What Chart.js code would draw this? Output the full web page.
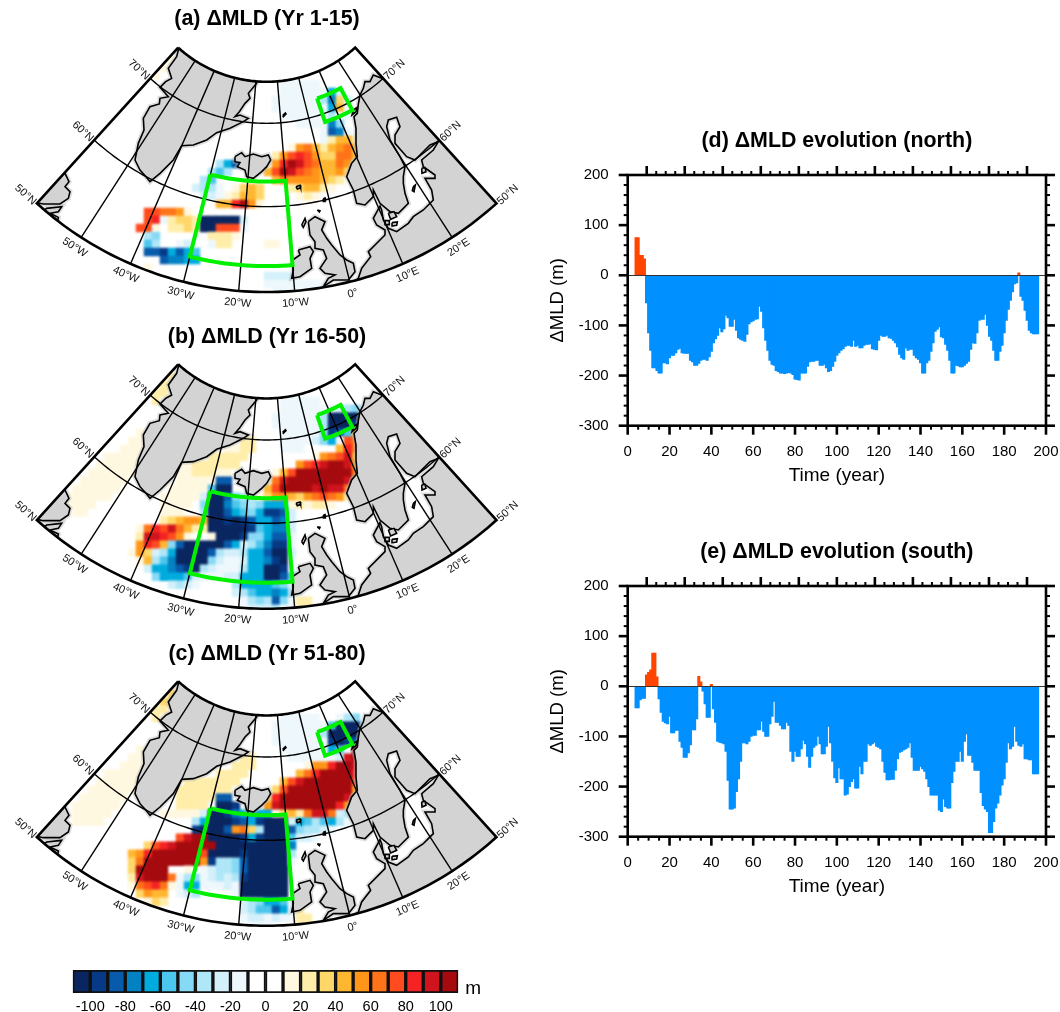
<!DOCTYPE html>
<html>
<head>
<meta charset="utf-8">
<title>MLD response</title>
<script src="https://cdn.jsdelivr.net/npm/chart.js@4/dist/chart.umd.js"></script>
<style>
html, body { margin: 0; padding: 0; background: #fff; overflow: hidden; }
#page { position: relative; width: 1060px; height: 1012px; }
canvas { position: absolute; filter: blur(0.35px); }
canvas.cells { filter: blur(1.1px); }
</style>
</head>
<body>
<div id="page">
    <canvas class="cells" id="cellsA" width="534" height="320" style="left:0;top:0"></canvas>
    <canvas class="cells" id="cellsB" width="534" height="320" style="left:0;top:317px"></canvas>
    <canvas class="cells" id="cellsC" width="534" height="320" style="left:0;top:634px"></canvas>
    <canvas id="mapA" width="534" height="320" style="left:0;top:0"></canvas>
    <canvas id="mapB" width="534" height="320" style="left:0;top:317px"></canvas>
    <canvas id="mapC" width="534" height="320" style="left:0;top:634px"></canvas>
    <canvas id="colorBar" width="435" height="57" style="left:55px;top:955px"></canvas>
    <canvas id="north" width="520" height="365" style="left:540px;top:125px"></canvas>
    <canvas id="south" width="520" height="365" style="left:540px;top:536px"></canvas>
</div>
<script>

// yearly MLD anomaly (m), first bar is year 4
const firstYear = 4;
const northValues = [
    75,75,40,40,33,-55,-115,-150,-185,-185,-190,-195,-195,-175,-175,-177,
    -165,-160,-160,-155,-148,-146,-155,-156,-156,-156,-170,-173,-180,-180,-176,-170,-168,-168,-170,-163,
    -152,-135,-127,-120,-105,-113,-107,-80,-85,-102,-102,-88,-110,-125,-128,-130,-132,-118,-97,-93,
    -91,-88,-87,-62,-72,-105,-130,-150,-170,-178,-180,-190,-192,-195,-195,-196,-195,-194,-195,-198,
    -207,-208,-209,-195,-195,-195,-182,-173,-172,-172,-170,-170,-180,-180,-178,-185,-192,-190,-182,-172,
    -160,-155,-150,-147,-142,-140,-140,-142,-130,-142,-140,-145,-145,-140,-138,-138,-137,-147,-148,-149,
    -130,-120,-122,-122,-120,-125,-126,-130,-135,-143,-158,-165,-168,-145,-150,-148,-148,-160,-165,-168,
    -175,-195,-195,-175,-170,-152,-135,-112,-108,-103,-123,-125,-138,-150,-170,-195,-195,-180,-181,-183,
    -183,-180,-176,-172,-148,-135,-136,-115,-90,-88,-88,-78,-100,-122,-130,-150,-170,-170,-152,-140,
    -115,-90,-68,-50,-33,-17,-15,5,-42,-50,-70,-90,-110,-115,-117,-117,-117
];
const southValues = [
    -43,-43,-27,-24,-24,23,28,33,66,66,19,-25,-52,-70,-73,-75,
    -60,-93,-93,-88,-88,-110,-122,-142,-142,-133,-117,-87,-87,-65,20,9,-10,-35,-62,-62,
    4,-45,-72,-110,-112,-113,-115,-130,-188,-245,-245,-243,-210,-185,-150,-113,-113,-115,-110,-100,
    -98,-98,-87,-87,-70,-90,-100,-100,-75,-60,-30,-72,-72,-78,-85,-85,-72,-78,-130,-150,
    -130,-140,-140,-125,-108,-115,-140,-162,-140,-122,-118,-100,-115,-135,-135,-120,-80,-113,-150,-183,
    -192,-163,-185,-185,-217,-215,-200,-190,-185,-203,-203,-160,-175,-150,-150,-115,-118,-115,-112,-120,
    -122,-125,-150,-172,-187,-187,-186,-186,-168,-145,-132,-130,-127,-125,-122,-113,-142,-168,-168,-168,
    -160,-165,-170,-185,-200,-217,-217,-217,-217,-247,-250,-225,-240,-243,-243,-192,-170,-150,-150,-130,
    -150,-110,-95,-138,-138,-152,-168,-168,-168,-212,-238,-245,-250,-292,-292,-270,-243,-233,-217,-197,
    -185,-152,-113,-125,-120,-80,-110,-118,-120,-115,-145,-145,-147,-147,-175,-175,-175
];

// colour levels: -110 ... 110 in steps of 10, one letter per level in the map cells
const levelEdges = [-110,-100,-90,-80,-70,-60,-50,-40,-30,-20,-10,0,10,20,30,40,50,60,70,80,90,100,110];
const levelTicks = [-100,-80,-60,-40,-20,0,20,40,60,80,100];
const levelCodes = 'abcdefghijklmnopqrstuv';
const levelColors = [
    '#0a2660','#063a87','#085aaa','#0282c3','#00acde','#4bc6ec','#87daf6','#afe6f8','#d4f0fa','#eef8fc','#ffffff',
    '#ffffff','#fff8e1','#ffeeaa','#ffd769','#ffb732','#ff9619','#ff7319','#ff4b1e','#f52323','#d0141e','#a50a0f'
];

// map cells as [row, first column, level letters]
const cellsA = [
    [1,17,'mm'],[2,16,'mm'],[3,15,'m'],[4,31,'jjjjj'],[5,31,'jjjjjjei'],[6,30,'jjjjjjhdoi'],[7,30,'jjjjjjjepj'],
    [8,31,'jjjjjjhjj'],[9,33,'jjjjdg'],[10,36,'jcdj'],[11,36,'jnppn'],[12,32,'mqrpnpqrpm'],[13,30,'nqstsqoorrp'],
    [14,29,'mqtvusrpprqn'],[14,23,'hech'],[15,29,'psvusrqppqom'],[15,22,'hfh'],[16,30,'prqqqqpon'],[16,21,'hf'],
    [17,32,'noppnm'],[17,20,'ihhj'],[17,25,'mopo'],[18,33,'mnm'],[18,21,'iij'],[18,24,'mnppo'],[19,23,'pptvqm'],
    [20,14,'ssrrqm'],[21,14,'st'],[21,16,'jnoon'],[21,21,'aaaaai'],[22,13,'ssm'],[22,17,'nnon'],[22,21,'aasssj'],
    [23,14,'hg'],[23,20,'j'],[23,22,'nnnm'],[24,14,'fh'],[24,18,'ji'],[24,22,'jnn'],[24,29,'mm'],[25,14,'ccbecef'],
    [26,16,'cddee'],[27,14,'m'],[28,29,'iiii'],[29,29,'jjjjj'],[29,34,'jjj'],[30,30,'jjj'],[30,34,'jj']
];
const cellsB = [
    [1,17,'nn'],[2,16,'nn'],[3,15,'nn'],[4,15,'n'],[4,31,'jjjjj'],[5,31,'jjjjjjjihg'],[6,30,'jjjjjjhaaaag'],
    [7,30,'jjjjjjhaaabh'],[8,31,'jjjjjgbcfpj'],[8,13,'mm'],[9,31,'jjjjigejsr'],[9,12,'mm'],[9,26,'nn'],
    [10,31,'jjj'],[10,38,'ptr'],[10,11,'mmm'],[10,24,'mmnn'],[11,35,'mqrsup'],[11,9,'mmmmm'],[11,22,'nnnnn'],
    [12,33,'qstuvvuq'],[12,8,'mmmmmm'],[12,18,'mmnnnnnn'],[13,30,'mpsvvvvvvvr'],[13,7,'mmmmmm'],[13,18,'mmnnnmm'],
    [14,29,'mruvvvvvvvup'],[14,6,'mmmmmm'],[14,18,'mmmmm'],[14,23,'cc'],[15,29,'psvvvvuvuurm'],[15,5,'mmmmmm'],
    [15,17,'mmmmm'],[15,22,'faa'],[16,28,'moqqpoqrsrqn'],[16,4,'mmmmmm'],[16,16,'mmmmm'],[16,21,'iaacghh'],
    [17,21,'gaadfghgeeemnmnnm'],[17,4,'mmmm'],[17,16,'mmmm'],[18,5,'mm'],[18,16,'mmm'],[18,21,'haacefgebbci'],
    [19,16,'nopqqpaababceecdi'],[20,13,'mrtsurpnnaaaaabfeddi'],[21,13,'nuutsqm'],[21,22,'maaabggeccj'],
    [22,13,'qtspgcaaaaaceihfdbbj'],[23,12,'mqoiheaaaachiiheecaai'],[24,13,'mphfdaaaagijjieedbaj'],
    [25,14,'ieedcbahijjjheeaabj'],[26,15,'geeefijjjiieeeaacfh'],[27,17,'ihij'],[27,25,'heeeefgi'],
    [28,25,'ihfeedehj'],[29,26,'jhghcgjnn'],[30,26,'jiiihjjnn']
];
const cellsC = [
    [1,17,'oo'],[2,16,'oo'],[3,15,'nn'],[4,15,'n'],[4,31,'jjjjj'],[4,38,'jhg'],[5,30,'jjjjjjjfaaag'],[6,30,'jjjjjjhaaaah'],
    [7,30,'jjjjjjjbabch'],[8,31,'jjjjjjefjvj'],[8,13,'mm'],[9,32,'jjjjjjiuv'],[9,12,'mm'],[9,26,'nn'],
    [10,34,'mqqtvvu'],[10,11,'mmm'],[10,25,'nnn'],[11,33,'prtvvvvt'],[11,9,'mmmmm'],[11,23,'nnnn'],
    [12,31,'psuvvvvvvs'],[12,8,'mmmmmm'],[12,19,'nnnnnnn'],[13,30,'osvvvvvvvvq'],[13,7,'mmmmmm'],[13,18,'nnnnnnn'],
    [14,29,'otvvvvvvvvup'],[14,6,'mmmmmm'],[14,18,'nnnnn'],[14,23,'cc'],[15,29,'quvvvvvvvtqm'],[15,5,'mmmmmm'],
    [15,18,'nnnnj'],[15,23,'aab'],[16,5,'mmmmm'],[16,16,'mmmmm'],[16,21,'iaabdeeee'],[16,30,'mopnruurihj'],
    [17,5,'mmmm'],[17,20,'heaaabcebaaaiefhfehj'],[18,20,'baaacqrohaaacghhij'],[19,18,'suvvaaaabebaaafiij'],
    [20,14,'ostuvvvvvaaaaaaaaad'],[21,12,'pqtvvvvvvsaaaabaaaaah'],[22,12,'orvvvvvvvqbhhgcaaaaaj'],
    [23,12,'ovvvv'],[23,19,'m'],[23,21,'jihhgcaaaaa'],[24,12,'nuvvvrjhgjihihbaaaaa'],[25,12,'mrstrmjeejjjijaaaaaa'],
    [26,13,'oqpp'],[26,18,'jih'],[26,25,'jaaaaaa'],[27,14,'mon'],[27,26,'ihgeefj'],[28,26,'ihffcejn'],
    [29,26,'jiijijjnn'],[30,27,'jjj'],[30,33,'nn']
];

// coast outlines, in map plane units
const greenland = [[540,110],[535,150],[530,170],[505,205],[515,235],[497,245],[480,262],[505,290],[480,295],[478,312],[450,320],[430,355],[432,390],[415,430],[405,480],[420,510],[438,530],[450,545],[480,520],[520,480],[545,437],[580,435],[620,420],[650,398],[690,385],[730,365],[745,355],[720,345],[705,350],[718,335],[735,310],[750,295],[745,280],[770,250],[770,200],[700,120]];
const canada = [[40,540],[195,520],[207,545],[195,560],[210,575],[205,595],[180,612],[130,612],[100,606],[40,620]];
const newfoundland = [[120,640],[140,625],[185,620],[175,635],[150,640],[175,652],[170,680],[120,680]];
const iceland = [[705,470],[725,458],[735,470],[760,462],[785,470],[805,465],[812,480],[800,500],[785,515],[760,535],[740,530],[735,510],[712,500],[720,488],[705,485]];
const britain = [[925,665],[945,650],[975,665],[965,690],[980,715],[995,735],[1020,765],[1040,780],[1060,790],[1065,815],[1045,840],[1000,840],[970,860],[985,835],[1005,825],[975,820],[960,805],[980,775],[970,750],[945,745],[945,725],[930,705]];
const ireland = [[895,750],[930,740],[940,755],[930,775],[935,805],[900,830],[875,835],[880,810],[878,780],[900,765]];
const eurasia = [[1200,130],[1145,235],[1120,225],[1110,245],[1095,245],[1090,265],[1080,285],[1075,312],[1072,340],[1062,350],[1068,385],[1068,430],[1072,470],[1055,490],[1040,530],[1045,540],[1060,570],[1070,610],[1095,615],[1120,590],[1120,570],[1140,610],[1170,635],[1195,640],[1210,625],[1225,610],[1215,580],[1210,550],[1210,530],[1215,500],[1200,470],[1170,420],[1160,380],[1165,360],[1190,352],[1200,380],[1185,405],[1185,430],[1220,470],[1245,480],[1290,435],[1315,425],[1300,450],[1265,480],[1270,500],[1305,525],[1305,535],[1275,535],[1295,570],[1300,600],[1270,630],[1240,650],[1225,670],[1190,695],[1165,685],[1150,660],[1145,630],[1140,618],[1128,640],[1120,655],[1130,675],[1155,690],[1155,705],[1140,720],[1105,755],[1112,770],[1085,805],[1075,835],[1050,855],[1040,1000],[1600,1000],[1600,130]];
const smallIslands = [
    [[848,347],[856,339],[858,342],[850,350]],
    [[888,560],[900,556],[902,563],[892,567]],
    [[970,596],[975,594],[976,604],[971,604]],
    [[952,630],[960,632],[958,636]],
    [[905,675],[915,655],[918,665],[910,682]],
    [[1240,560],[1246,555],[1242,575],[1237,572]],
    [[1265,505],[1275,503],[1278,515],[1266,520]],
    [[1165,640],[1182,635],[1190,650],[1172,658]],
    [[1155,662],[1168,662],[1168,674],[1157,674]],
    [[1176,668],[1192,666],[1190,676],[1178,678]],
    [[1060,330],[1072,322],[1068,335],[1056,345]]
];

const mapEdgeLons = [-60, 30];
const mapEdgeLats = [50, 75];
const meridians = [-50, -40, -30, -20, -10, 0, 10, 20];
const parallels = [60, 70];
const boxSouth = [-30, -10, 53, 63];
const boxNorth = [5, 15, 69, 72];
const meridianLabels = ['50°W', '40°W', '30°W', '20°W', '10°W', '0°', '10°E', '20°E'];
const parallelLabels = ['60°N', '70°N'];

Chart.defaults.font.family = '"Liberation Sans", Arial, sans-serif';
Chart.defaults.color = '#000';
Chart.defaults.animation = false;

// Lambert conformal, fitted to the picture
function project(lon, lat) {
    let n = 0.938;
    let r = 520 * Math.pow(Math.tan((90 - lat) / 2 * Math.PI / 180) / Math.tan(10 * Math.PI / 180), n);
    let t = n * (lon + 15) * Math.PI / 180;
    return { x: 800 + r * Math.sin(t), y: -150 + r * Math.cos(t) };
}

function parallelPath(lat, lon0, lon1) {
    let pts = [];
    let step = lon1 > lon0 ? 1 : -1;
    for (let lon = lon0; lon !== lon1 + step; lon += step) pts.push(project(lon, lat));
    return pts;
}

function boxPath(box) {
    let pts = parallelPath(box[3], box[0], box[1]).concat(parallelPath(box[2], box[1], box[0]));
    pts.push(pts[0]);
    return pts;
}

function toXY(list) {
    return list.map(function(p) { return { x: p[0], y: p[1] }; });
}

function cellPoints(rows) {
    let pts = [];
    rows.forEach(function(rowData) {
        [...rowData[2]].forEach(function(code, i) {
            pts.push({
                x: 96 + (rowData[1] + i + 0.5) * 24,
                y: 144 + (rowData[0] + 0.5) * 24,
                level: levelCodes.indexOf(code),
            });
        });
    });
    return pts;
}

function lineSet(data, color, width, extra) {
    return Object.assign({
        data: data, showLine: true, pointRadius: 0, borderColor: color, borderWidth: width,
        tension: 0, fill: false,
    }, extra || {});
}

function buildCellDataset(cells) {
    let pts = cellPoints(cells);
    return {
        data: pts,
        lastClipped: true,
        pointStyle: 'rect',
        pointRadius: 6,
        pointBorderWidth: 0,
        pointBackgroundColor: pts.map(function(p) { return levelColors[p.level]; }),
    };
}

function buildMapDatasets() {
    let sets = [];
    let landShapes = [greenland, canada, newfoundland, iceland, britain, ireland, eurasia];
    landShapes.forEach(function(shape) {
        let closed = toXY(shape.concat([shape[0]]));
        sets.push(lineSet(closed, 'rgba(180,180,180,0.45)', 5));
    });
    landShapes.concat(smallIslands).forEach(function(shape) {
        let closed = toXY(shape.concat([shape[0]]));
        sets.push(lineSet(closed, '#000', 1.6, { fill: 'shape', backgroundColor: '#d3d3d3' }));
    });
    meridians.forEach(function(lon) {
        sets.push(lineSet([project(lon, mapEdgeLats[0]), project(lon, mapEdgeLats[1])], '#000', 1.4));
    });
    parallels.forEach(function(lat) {
        sets.push(lineSet(parallelPath(lat, mapEdgeLons[0], mapEdgeLons[1]), '#000', 1.4, { lastClipped: lat === parallels[1] }));
    });
    sets.push(lineSet(boxPath(boxSouth), '#00f000', 4, { borderJoinStyle: 'miter' }));
    sets.push(lineSet(boxPath(boxNorth), '#00f000', 4, { borderJoinStyle: 'miter' }));
    let outline = boxPath([mapEdgeLons[0], mapEdgeLons[1], mapEdgeLats[0], mapEdgeLats[1]]);
    sets.push(lineSet(outline, '#000', 2.6, { borderJoinStyle: 'miter' }));
    return sets.reverse();
}

// cells and land are cut to the map sector, the frame and boxes are not
const sectorClip = {
    id: 'sectorClip',
    beforeDatasetsDraw(chart) {
        let ctx = chart.ctx;
        let xs = chart.scales.x, ys = chart.scales.y;
        ctx.save();
        ctx.beginPath();
        boxPath([mapEdgeLons[0], mapEdgeLons[1], mapEdgeLats[0], mapEdgeLats[1]]).forEach(function(p, i) {
            let px = xs.getPixelForValue(p.x), py = ys.getPixelForValue(p.y);
            if (i === 0) ctx.moveTo(px, py); else ctx.lineTo(px, py);
        });
        ctx.clip();
    },
    afterDatasetDraw(chart, args) {
        if (chart.data.datasets[args.index].lastClipped) {
            chart.ctx.restore();
        }
    },
};

function drawRotated(chart, text, p, angle) {
    let ctx = chart.ctx;
    ctx.save();
    ctx.translate(chart.scales.x.getPixelForValue(p.x), chart.scales.y.getPixelForValue(p.y));
    ctx.rotate(angle);
    ctx.fillText(text, 0, 0);
    ctx.restore();
}

const mapLabels = {
    id: 'mapLabels',
    afterDraw(chart) {
        let ctx = chart.ctx;
        ctx.save();
        ctx.font = '11px "Liberation Sans"';
        ctx.fillStyle = '#111';
        ctx.textAlign = 'center';
        ctx.textBaseline = 'middle';
        let n = 0.938 * Math.PI / 180;
        meridians.forEach(function(lon, i) {
            let t = n * (lon + 15);
            let edge = project(lon, 50);
            let p = { x: edge.x + 36 * Math.sin(t), y: edge.y + 36 * Math.cos(t) };
            drawRotated(chart, meridianLabels[i], p, -t);
        });
        [50].concat(parallels).forEach(function(lat, i) {
            let text = i === 0 ? '50°N' : parallelLabels[i - 1];
            [-1, 1].forEach(function(side) {
                let lon = side < 0 ? mapEdgeLons[0] : mapEdgeLons[1];
                let t = n * (lon + 15);
                let edge = project(lon, lat);
                let p = { x: edge.x + side * 46 * Math.cos(t), y: edge.y - side * 46 * Math.sin(t) + 5 };
                drawRotated(chart, text, p, -t);
            });
        });
        ctx.restore();
    },
};

function addMap(id, cellId, title, cells, titleTop, canvasTop, panelTop) {
    let titleBottom = 32 - 21.4 - titleTop;
    let shift = (canvasTop - panelTop) * 3;

    // the model cells sit on their own softened layer below the land
    new Chart(document.getElementById(cellId), {
        type: 'scatter',
        data: { datasets: [buildCellDataset(cells)] },
        plugins: [sectorClip],
        options: {
            responsive: false,
            events: [],
            layout: { padding: 0, autoPadding: false },
            plugins: { legend: { display: false }, tooltip: { enabled: false } },
            scales: {
                x: { type: 'linear', display: false, min: 0, max: 1602 },
                y: { type: 'linear', display: false, reverse: true, min: shift, max: 960 + shift },
            },
        },
    });

    new Chart(document.getElementById(id), {
        type: 'scatter',
        data: { datasets: buildMapDatasets() },
        plugins: [sectorClip, mapLabels],
        options: {
            responsive: false,
            events: [],
            layout: { padding: 0, autoPadding: false },
            plugins: {
                legend: { display: false },
                tooltip: { enabled: false },
                title: {
                    display: true, text: title,
                    font: { size: 21.4, weight: 'bold', lineHeight: 1 },
                    padding: { top: titleTop, bottom: titleBottom },
                },
            },
            scales: {
                x: { type: 'linear', display: false, min: 0, max: 1602 },
                y: { type: 'linear', display: false, reverse: true, min: 96 + shift, max: 960 + shift },
            },
        },
    });
}

addMap('mapA', 'cellsA', '(a) ΔMLD (Yr 1-15)', cellsA, 8, 0, 0);
addMap('mapB', 'cellsB', '(b) ΔMLD (Yr 16-50)', cellsB, 9, 317, 316.67);
addMap('mapC', 'cellsC', '(c) ΔMLD (Yr 51-80)', cellsC, 9, 634, 633.67);

// ticks on all four sides, NCL style
const frameTicks = {
    id: 'frameTicks',
    afterDraw(chart) {
        let ctx = chart.ctx;
        ctx.save();
        ctx.strokeStyle = '#000';
        Object.values(chart.scales).forEach(function(s) {
            let step = s.isHorizontal() ? 5 : 20;
            let major = s.isHorizontal() ? 20 : 100;
            for (let v = s.min; v <= s.max; v += step) {
                let isMajor = v % major === 0;
                let len = isMajor ? 9 : 4;
                let p = s.getPixelForValue(v);
                ctx.lineWidth = isMajor ? 2.6 : 2;
                ctx.beginPath();
                if (s.position === 'left') { ctx.moveTo(s.right, p); ctx.lineTo(s.right - len, p); }
                if (s.position === 'right') { ctx.moveTo(s.left, p); ctx.lineTo(s.left + len, p); }
                if (s.position === 'top') { ctx.moveTo(p, s.bottom); ctx.lineTo(p, s.bottom - len); }
                if (s.position === 'bottom') { ctx.moveTo(p, s.top); ctx.lineTo(p, s.top + len); }
                ctx.stroke();
            }
        });
        let area = chart.chartArea;
        ctx.lineWidth = 2.6;
        ctx.strokeRect(area.left, area.top, area.right - area.left, area.bottom - area.top);
        ctx.restore();
    },
};

function sideAxis(position, size, type) {
    let axis = {
        type: 'linear', position: position, display: true,
        ticks: { display: false },
        grid: { drawOnChartArea: false, drawTicks: false },
        border: { display: false },
        afterFit: function(s) { if (s.isHorizontal()) s.height = size; else s.width = size; },
    };
    if (type === 'x') { axis.min = 0; axis.max = 200; axis.ticks.stepSize = 20; }
    else { axis.min = -300; axis.max = 200; axis.ticks.stepSize = 100; }
    return axis;
}

function addSeries(id, title, values) {
    new Chart(document.getElementById(id), {
        type: 'bar',
        data: {
            datasets: [{
                data: values.map(function(v, i) { return { x: firstYear + i, y: v }; }),
                backgroundColor: values.map(function(v) { return v > 0 ? '#ff4500' : '#0090ff'; }),
                borderWidth: 0,
                barThickness: 2.4,
            }],
        },
        plugins: [frameTicks],
        options: {
            responsive: false,
            events: [],
            layout: { padding: 0, autoPadding: false },
            plugins: {
                legend: { display: false },
                tooltip: { enabled: false },
                title: {
                    display: true, text: title, fullSize: false,
                    font: { size: 21.4, weight: 'bold', lineHeight: 1 },
                    padding: { top: 5.5, bottom: 0 },
                },
            },
            scales: {
                x: {
                    type: 'linear', position: 'bottom', min: 0, max: 200, offset: false,
                    ticks: { stepSize: 20, font: { size: 15 }, padding: 17, maxRotation: 0, autoSkip: false },
                    grid: { offset: false, drawOnChartArea: false, drawTicks: false },
                    border: { display: false },
                    title: { display: true, text: 'Time (year)', font: { size: 19, lineHeight: 1.1 }, padding: { top: 0, bottom: 4 } },
                    afterFit: function(s) { s.height = 64.3; s.paddingLeft = 0; s.paddingRight = 0; },
                },
                y: {
                    type: 'linear', position: 'left', min: -300, max: 200,
                    ticks: { stepSize: 100, font: { size: 15 }, padding: 19 },
                    grid: {
                        z: 1, drawTicks: false,
                        color: function(c) { return c.tick && c.tick.value === 0 ? '#333' : 'rgba(0,0,0,0)'; },
                        lineWidth: 1,
                    },
                    border: { display: false },
                    title: { display: true, text: 'ΔMLD (m)', font: { size: 18.5, lineHeight: 1.1 }, padding: { top: 8, bottom: 0 } },
                    afterFit: function(s) { s.width = 87.7; },
                },
                xTop: sideAxis('top', 23.1, 'x'),
                yRight: sideAxis('right', 14, 'y'),
            },
        },
    });
}

addSeries('north', '(d) ΔMLD evolution (north)', northValues);
addSeries('south', '(e) ΔMLD evolution (south)', southValues);

const unitLabel = {
    id: 'unitLabel',
    afterDraw(chart) {
        let ctx = chart.ctx;
        ctx.save();
        ctx.font = '19px "Liberation Sans"';
        ctx.fillStyle = '#000';
        ctx.textAlign = 'left';
        ctx.textBaseline = 'middle';
        ctx.fillText('m', chart.chartArea.right + 7, 34);
        ctx.restore();
    },
};

new Chart(document.getElementById('colorBar'), {
    type: 'bar',
    data: {
        labels: ['m'],
        datasets: levelColors.map(function(color, i) {
            return {
                data: [[levelEdges[i], levelEdges[i + 1]]],
                backgroundColor: color,
                borderColor: '#111',
                borderWidth: 2,
                borderSkipped: false,
                grouped: false,
                barPercentage: 1,
                categoryPercentage: 1,
            };
        }),
    },
    plugins: [unitLabel],
    options: {
        indexAxis: 'y',
        responsive: false,
        events: [],
        layout: { padding: { left: 17.7, right: 31.7, top: 15, bottom: 0 }, autoPadding: false },
        plugins: { legend: { display: false }, tooltip: { enabled: false } },
        scales: {
            y: { display: false },
            x: {
                type: 'linear', position: 'bottom', min: -110, max: 110,
                afterBuildTicks: function(s) { s.ticks = levelTicks.map(function(v) { return { value: v }; }); },
                ticks: { font: { size: 14.5 }, padding: 5, maxRotation: 0, autoSkip: false },
                grid: { display: false, drawTicks: false },
                border: { display: false },
                afterFit: function(s) { s.height = 19; s.paddingLeft = 0; s.paddingRight = 0; },
            },
        },
    },
});

</script>
</body>
</html>
